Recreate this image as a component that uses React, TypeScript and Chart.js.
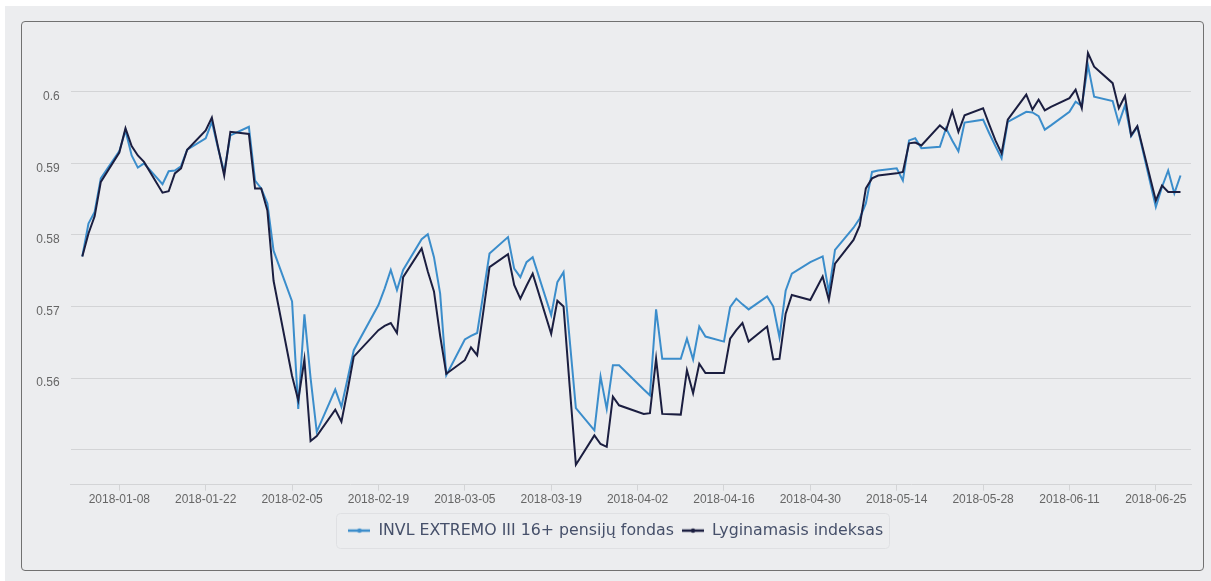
import React, { useEffect, useRef } from 'react';
import { Chart, registerables } from 'chart.js';

Chart.register(...registerables);

// ---------- data ----------
const dates: string[] = [
  '2018-01-02', '2018-01-03', '2018-01-04', '2018-01-05',
  '2018-01-08', '2018-01-09', '2018-01-10', '2018-01-11', '2018-01-12',
  '2018-01-15', '2018-01-16', '2018-01-17', '2018-01-18', '2018-01-19',
  '2018-01-22', '2018-01-23', '2018-01-24', '2018-01-25', '2018-01-26',
  '2018-01-29', '2018-01-30', '2018-01-31', '2018-02-01', '2018-02-02',
  '2018-02-05', '2018-02-06', '2018-02-07', '2018-02-08', '2018-02-09',
  '2018-02-12', '2018-02-13', '2018-02-14', '2018-02-15',
  '2018-02-19', '2018-02-20', '2018-02-21', '2018-02-22', '2018-02-23',
  '2018-02-26', '2018-02-27', '2018-02-28', '2018-03-01', '2018-03-02',
  '2018-03-05', '2018-03-06', '2018-03-07', '2018-03-08', '2018-03-09',
  '2018-03-12', '2018-03-13', '2018-03-14', '2018-03-15', '2018-03-16',
  '2018-03-19', '2018-03-20', '2018-03-21', '2018-03-22', '2018-03-23',
  '2018-03-26', '2018-03-27', '2018-03-28', '2018-03-29', '2018-03-30',
  '2018-04-03', '2018-04-04', '2018-04-05', '2018-04-06',
  '2018-04-09', '2018-04-10', '2018-04-11', '2018-04-12', '2018-04-13',
  '2018-04-16', '2018-04-17', '2018-04-18', '2018-04-19', '2018-04-20',
  '2018-04-23', '2018-04-24', '2018-04-25', '2018-04-26', '2018-04-27',
  '2018-04-30', '2018-05-02', '2018-05-03', '2018-05-04',
  '2018-05-07', '2018-05-08', '2018-05-09', '2018-05-10', '2018-05-11',
  '2018-05-14', '2018-05-15', '2018-05-16', '2018-05-17', '2018-05-18',
  '2018-05-21', '2018-05-22', '2018-05-23', '2018-05-24', '2018-05-25',
  '2018-05-28', '2018-05-29', '2018-05-30', '2018-05-31', '2018-06-01',
  '2018-06-04', '2018-06-05', '2018-06-06', '2018-06-07', '2018-06-08',
  '2018-06-11', '2018-06-12', '2018-06-13', '2018-06-14', '2018-06-15',
  '2018-06-18', '2018-06-19', '2018-06-20', '2018-06-21', '2018-06-22',
  '2018-06-25', '2018-06-26', '2018-06-27', '2018-06-28', '2018-06-29',
];

const fundValues: number[] = [
  0.5770, 0.5816, 0.5832, 0.5879,
  0.5917, 0.5946, 0.5911, 0.5894, 0.5900,
  0.5871, 0.5889, 0.5890, 0.5896, 0.5919,
  0.5935, 0.5958, 0.5921, 0.5888, 0.5939,
  0.5951, 0.5876, 0.5865, 0.5844, 0.5778,
  0.5707, 0.5557, 0.5689, 0.5600, 0.5525,
  0.5584, 0.5560, 0.5599, 0.5639,
  0.5702, 0.5725, 0.5751, 0.5723, 0.5751,
  0.5794, 0.5801, 0.5769, 0.5718, 0.5604,
  0.5654, 0.5659, 0.5663, 0.5718, 0.5774,
  0.5797, 0.5753, 0.5741, 0.5762, 0.5769,
  0.5688, 0.5734, 0.5748, 0.5653, 0.5558,
  0.5527, 0.5602, 0.5557, 0.5618, 0.5618,
  0.5584, 0.5576, 0.5696, 0.5627,
  0.5627, 0.5655, 0.5626, 0.5672, 0.5658,
  0.5651, 0.5699, 0.5711, 0.5703, 0.5696,
  0.5714, 0.5700, 0.5657, 0.5722, 0.5746,
  0.5762, 0.5770, 0.5720, 0.5779,
  0.5810, 0.5823, 0.5844, 0.5888, 0.5890,
  0.5893, 0.5876, 0.5932, 0.5935, 0.5921,
  0.5923, 0.5949, 0.5932, 0.5917, 0.5957,
  0.5961, 0.5942, 0.5924, 0.5907, 0.5958,
  0.5972, 0.5971, 0.5966, 0.5947, 0.5953,
  0.5972, 0.5986, 0.5980, 0.6037, 0.5993,
  0.5987, 0.5956, 0.5981, 0.5938, 0.5951,
  0.5839, 0.5867, 0.5890, 0.5858, 0.5883,
];

const indexValues: number[] = [
  0.5770, 0.5802, 0.5826, 0.5874,
  0.5915, 0.5949, 0.5924, 0.5911, 0.5902,
  0.5859, 0.5861, 0.5886, 0.5893, 0.5919,
  0.5946, 0.5964, 0.5923, 0.5883, 0.5944,
  0.5941, 0.5865, 0.5865, 0.5834, 0.5736,
  0.5603, 0.5569, 0.5626, 0.5512, 0.5519,
  0.5556, 0.5539, 0.5583, 0.5630,
  0.5667, 0.5673, 0.5677, 0.5663, 0.5741,
  0.5781, 0.5749, 0.5721, 0.5659, 0.5606,
  0.5625, 0.5643, 0.5632, 0.5693, 0.5755,
  0.5773, 0.5730, 0.5711, 0.5729, 0.5746,
  0.5662, 0.5708, 0.5700, 0.5588, 0.5479,
  0.5520, 0.5508, 0.5504, 0.5574, 0.5562,
  0.5550, 0.5551, 0.5627, 0.5550,
  0.5549, 0.5611, 0.5579, 0.5620, 0.5607,
  0.5607, 0.5655, 0.5667, 0.5677, 0.5651,
  0.5672, 0.5626, 0.5627, 0.5690, 0.5716,
  0.5709, 0.5742, 0.5709, 0.5760,
  0.5793, 0.5813, 0.5865, 0.5879, 0.5883,
  0.5886, 0.5888, 0.5928, 0.5929, 0.5925,
  0.5953, 0.5946, 0.5973, 0.5944, 0.5967,
  0.5977, 0.5954, 0.5932, 0.5914, 0.5961,
  0.5996, 0.5975, 0.5989, 0.5974, 0.5979,
  0.5991, 0.6003, 0.5977, 0.6054, 0.6035,
  0.6012, 0.5977, 0.5994, 0.5939, 0.5952,
  0.5848, 0.5869, 0.5860, 0.5860, 0.5860,
];

const xTickDates: string[] = [
  '2018-01-08', '2018-01-22', '2018-02-05', '2018-02-19', '2018-03-05',
  '2018-03-19', '2018-04-02', '2018-04-16', '2018-04-30', '2018-05-14',
  '2018-05-28', '2018-06-11', '2018-06-25',
];

const yTickValues: number[] = [0.55, 0.56, 0.57, 0.58, 0.59, 0.6];
const hiddenYLabels: number[] = [0.55];

const seriesLabels: string[] = ['INVL EXTREMO III 16+ pensijų fondas', 'Lyginamasis indeksas'];

// ---------- helpers ----------
const FUND_COLOR = '#3b8dcb';
const INDEX_COLOR = '#1b1e40';
const GRID_COLOR = '#d3d4d6';

const DAY0 = Date.UTC(2018, 0, 1);
const toDay = (s: string) => {
  const [y, m, d] = s.split('-').map(Number);
  return (Date.UTC(y, m - 1, d) - DAY0) / 86400000;
};
const fromDay = (n: number) => new Date(DAY0 + Math.round(n) * 86400000).toISOString().slice(0, 10);

function makeLegendIcon(color: string) {
  const c = document.createElement('canvas');
  c.width = 22;
  c.height = 8;
  const ctx = c.getContext('2d')!;
  ctx.strokeStyle = color;
  ctx.lineWidth = 2.5;
  ctx.beginPath();
  ctx.moveTo(0, 4);
  ctx.lineTo(22, 4);
  ctx.stroke();
  ctx.fillStyle = color;
  ctx.beginPath();
  ctx.arc(11, 4, 2.2, 0, Math.PI * 2);
  ctx.fill();
  return c;
}

const LEGEND_SHIFT = 9.3;

const legendBoxPlugin = {
  id: 'legendBox',
  afterLayout(chart: any) {
    const lg = chart.legend;
    if (!lg) return;
    lg.left += LEGEND_SHIFT;
    lg.right += LEGEND_SHIFT;
  },
  afterDraw(chart: any) {
    const lg = chart.legend;
    const hb = lg && lg.legendHitBoxes;
    if (!hb || !hb.length) return;
    const left = Math.min(...hb.map((h: any) => h.left)) - 12;
    const right = Math.max(...hb.map((h: any) => h.left + h.width)) + 6;
    const cy = hb[0].top + hb[0].height / 2;
    const ctx = chart.ctx;
    ctx.save();
    ctx.strokeStyle = '#dfe0e3';
    ctx.lineWidth = 1;
    ctx.beginPath();
    ctx.roundRect(Math.round(left) + 0.5, Math.round(cy - 17.5) + 0.5, Math.round(right - left), 35, 4);
    ctx.stroke();
    ctx.restore();
  },
};

export default function App() {
  const ref = useRef<HTMLCanvasElement>(null);

  useEffect(() => {
    const canvas = ref.current;
    if (!canvas) return;
    const fundIcon = makeLegendIcon(FUND_COLOR);
    const indexIcon = makeLegendIcon(INDEX_COLOR);

    const chart = new Chart(canvas, {
      type: 'line',
      data: {
        datasets: [
          {
            label: seriesLabels[0],
            data: dates.map((d, i) => ({ x: toDay(d), y: fundValues[i] })),
            borderColor: FUND_COLOR,
            backgroundColor: FUND_COLOR,
            borderWidth: 2,
            pointRadius: 0,
            pointHoverRadius: 0,
            pointStyle: fundIcon as any,
            tension: 0,
            fill: false,
            order: 2,
          },
          {
            label: seriesLabels[1],
            data: dates.map((d, i) => ({ x: toDay(d), y: indexValues[i] })),
            borderColor: INDEX_COLOR,
            backgroundColor: INDEX_COLOR,
            borderWidth: 2,
            pointRadius: 0,
            pointHoverRadius: 0,
            pointStyle: indexIcon as any,
            tension: 0,
            fill: false,
            order: 1,
          },
        ],
      },
      options: {
        animation: false,
        responsive: false,
        maintainAspectRatio: false,
        events: [],
        layout: { padding: { left: 0, right: 12, top: 0, bottom: 21.5 } },
        plugins: {
          tooltip: { enabled: false },
          legend: {
            position: 'bottom',
            labels: {
              usePointStyle: true,
              pointStyleWidth: 22,
              boxHeight: 8,
              padding: 8,
              color: '#46506a',
              font: { family: 'DejaVu Sans', size: 15.8 },
              sort: (a: any, b: any) => a.datasetIndex - b.datasetIndex,
            },
          },
        },
        scales: {
          x: {
            type: 'linear',
            min: -0.88,
            max: 180.7,
            afterBuildTicks: (s: any) => {
              s.ticks = xTickDates.map((d) => ({ value: toDay(d) }));
            },
            afterFit: (s: any) => {
              s.height = 30;
            },
            ticks: {
              autoSkip: false,
              maxRotation: 0,
              padding: 2,
              color: '#666666',
              font: { family: 'Liberation Sans', size: 12 },
              callback: (v: any) => fromDay(Number(v)),
            },
            grid: { drawOnChartArea: false, drawTicks: true, tickLength: 6, color: GRID_COLOR },
            border: { display: true, color: GRID_COLOR },
          },
          y: {
            type: 'linear',
            min: 0.54511,
            max: 0.6072,
            afterBuildTicks: (s: any) => {
              s.ticks = yTickValues.map((v) => ({ value: v }));
            },
            afterFit: (s: any) => {
              s.width = 48.7;
            },
            ticks: {
              padding: 11,
              labelOffset: 5,
              color: '#666666',
              font: { family: 'Liberation Sans', size: 12 },
              callback: (v: any) => {
                const n = Number(v);
                if (hiddenYLabels.some((h) => Math.abs(h - n) < 1e-9)) return '';
                return String(Math.round(n * 100) / 100);
              },
            },
            grid: { drawTicks: false, color: GRID_COLOR },
            border: { display: false },
          },
        },
      },
      plugins: [legendBoxPlugin],
    } as any);

    return () => chart.destroy();
  }, []);

  return (
    <div style={{ position: 'absolute', left: 0, top: 0, width: 1211, height: 581, background: '#ffffff', overflow: 'hidden' }}>
      <div style={{ position: 'absolute', left: 5, top: 6, right: 0, bottom: 0, background: '#ecedef' }} />
      <div
        style={{
          position: 'absolute',
          left: 21,
          top: 21,
          width: 1181,
          height: 548,
          border: '1px solid #717171',
          borderRadius: 4,
        }}
      >
        <canvas ref={ref} width={1181} height={548} style={{ display: 'block', width: 1181, height: 548 }} />
      </div>
    </div>
  );
}
